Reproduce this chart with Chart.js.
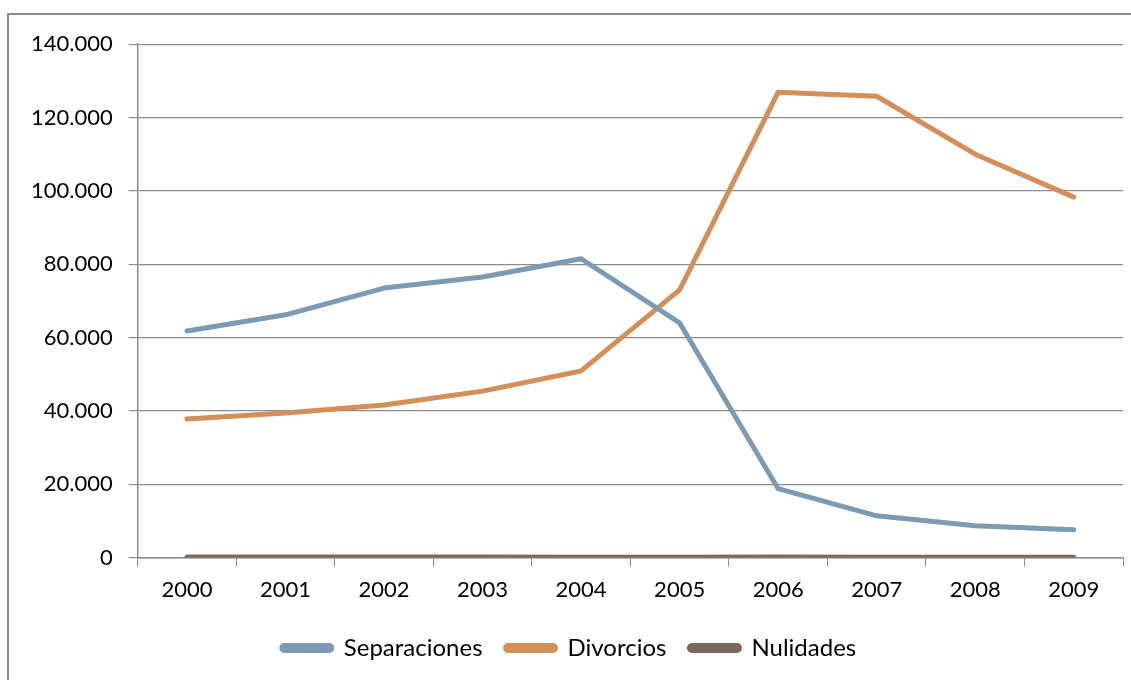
<!DOCTYPE html>
<html>
<head>
<meta charset="utf-8">
<script src="https://cdn.jsdelivr.net/npm/chart.js@4"></script>
<style>
  html, body { margin: 0; padding: 0; background: #fff; }
  body { width: 1131px; height: 680px; overflow: hidden; position: relative; }
  #frame {
    position: absolute; left: 7px; top: 13px; width: 1140px; height: 690px;
    border-left: 2px solid #8c8c8c; border-top: 2px solid #8c8c8c;
  }
  #wrap { position: absolute; left: 0; top: 0; width: 1122px; height: 665px; }
</style>
</head>
<body>
<div id="frame"><div id="wrap"><canvas id="chart"></canvas></div></div>
<script>
// Data
const years = ["2000", "2001", "2002", "2003", "2004", "2005", "2006", "2007", "2008", "2009"];
const separaciones = [61800, 66200, 73500, 76500, 81500, 64000, 18800, 11400, 8700, 7600];
const divorcios = [37800, 39400, 41600, 45400, 50900, 73000, 126900, 125800, 110000, 98300];
const nulidades = [150, 140, 130, 130, 120, 120, 130, 110, 110, 110];

const fmt = (v) => v.toLocaleString("de-DE");

const ctx = document.getElementById("chart").getContext("2d");
new Chart(ctx, {
  type: "line",
  data: {
    labels: years,
    datasets: [
      { label: "Separaciones", data: separaciones, borderColor: "#7b9ab3", backgroundColor: "#7b9ab3" },
      { label: "Divorcios", data: divorcios, borderColor: "#d48e58", backgroundColor: "#d48e58" },
      { label: "Nulidades", data: nulidades, borderColor: "#7a6a5c", backgroundColor: "#7a6a5c" },
    ],
  },
  options: {
    responsive: true,
    maintainAspectRatio: false,
    animation: false,
    elements: {
      line: { borderWidth: 5, tension: 0, borderCapStyle: "round", borderJoinStyle: "round" },
      point: { radius: 0 },
    },
    layout: { padding: { left: 6, right: 8, top: 26, bottom: 10 } },
    plugins: {
      tooltip: { enabled: false },
      legend: {
        position: "bottom",
        labels: {
          font: { family: "Lato", size: 24 },
          color: "#000",
          boxWidth: 50,
          boxHeight: 5,
          useBorderRadius: true,
          borderRadius: 2.5,
          padding: 23,
        },
      },
    },
    scales: {
      x: {
        offset: true,
        grid: { offset: true, drawOnChartArea: false, color: "#8c8c8c", tickLength: 9 },
        border: { color: "#8c8c8c", width: 1.5 },
        ticks: { font: { family: "Lato", size: 22 }, color: "#000", padding: 10, maxRotation: 0 },
      },
      y: {
        min: 0,
        max: 140000,
        ticks: {
          stepSize: 20000,
          font: { family: "Lato", size: 22 },
          color: "#000",
          padding: 16,
          callback: (v) => fmt(v),
        },
        grid: { color: "#8c8c8c", lineWidth: 1.2, tickLength: 9 },
        border: { color: "#8c8c8c", width: 1.5 },
      },
    },
  },
});
</script>
</body>
</html>
